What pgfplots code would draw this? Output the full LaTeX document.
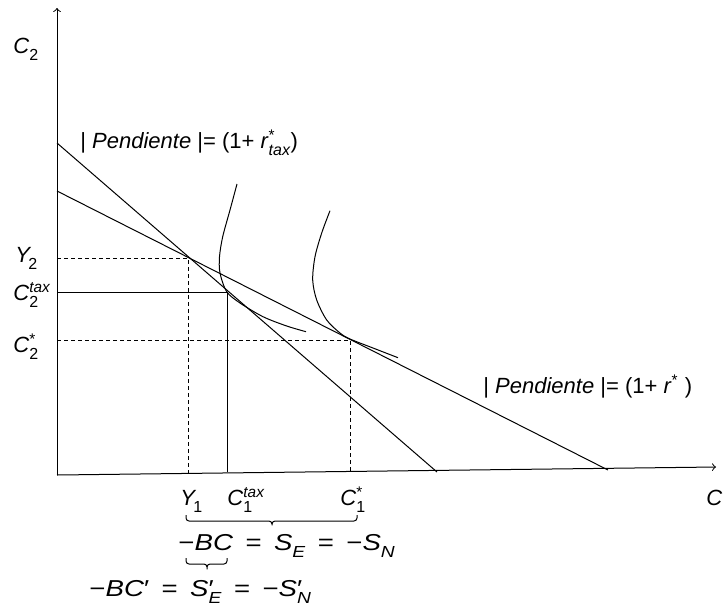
\documentclass[border=0pt]{standalone}
\usepackage{fontspec}
\setmainfont{Liberation Sans}
\usepackage{pgfplots}
\pgfplotsset{compat=1.18}
% lowered subscript and superscript stacked over subscript
\newcommand\dn[1]{\raisebox{-3.5pt}{\fontsize{8}{8}\selectfont #1}}
\newcommand\supsub[2]{\rlap{\textsuperscript{#1}}\dn{#2}}
\tikzset{lbl/.style={font=\fontsize{11}{13}\selectfont, inner sep=0pt, anchor=base west},
         dsh/.style={dash pattern=on 2pt off 1.5pt}}
\begin{document}
\begin{tikzpicture}
\begin{axis}[
    scale only axis, width=361.5pt, height=306pt,
    xmin=0, xmax=723, ymin=0, ymax=612, y dir=reverse,
    hide axis, clip=false, no markers,
    cycle list={{black,solid}},
    every axis plot/.append style={line width=0.5pt, black},
]
% axes
\addplot[->] coordinates {(57,475) (57,8)};
\addplot[->] coordinates {(57,475) (716,467)};
% budget lines
\addplot coordinates {(57,143) (437,472)};
\addplot coordinates {(57,191) (608,470)};
% guide lines
\addplot[dsh] coordinates {(57,258) (188,258) (188,473)};
\addplot coordinates {(57,292) (227,292) (227,472)};
\addplot[dsh] coordinates {(57,340) (350,340) (350,471)};
% indifference curves
\addplot[smooth] coordinates {(237,184) (230,210) (222.7,236.7) (219.5,256.7) (220,273)
    (226.7,291.7) (240,303) (263,316.7) (286.7,326) (306,331.7)};
\addplot[smooth] coordinates {(330,210.7) (321.7,233) (315,256.7) (312.7,280) (316.7,300)
    (326.7,320) (340,333) (350,339) (373,348) (398,357.7)};
% brackets
\addplot[rounded corners=1.5pt] coordinates {(186,515) (186,521) (272,521) (272,527)
    (272,521) (357,521) (357,515)};
\addplot[rounded corners=1.5pt] coordinates {(186,558) (186,564) (207,564) (207,571)
    (207,564) (227,564) (227,558)};
% labels
\node[lbl] at (axis cs:13,53) {\textit{C}\dn{2}};
\node[lbl] at (axis cs:15,262) {\textit{Y}\kern-1.5pt\dn{2}};
\node[lbl] at (axis cs:13,300) {\textit{C}\supsub{\textit{tax}}{2}};
\node[lbl] at (axis cs:13,352) {\textit{C}\supsub{*}{2}};
\node[lbl] at (axis cs:706,505) {\textit{C}\dn{1}};
\node[lbl] at (axis cs:180,505) {\textit{Y}\kern-1.5pt\dn{1}};
\node[lbl] at (axis cs:227,505) {\textit{C}\supsub{\textit{tax}}{1}};
\node[lbl] at (axis cs:340,505) {\textit{C}\supsub{*}{1}};
\node[lbl] at (axis cs:80,148) {| \textit{Pendiente} |= (1+ \textit{r}\supsub{*}{\textit{tax}})};
\node[lbl] at (axis cs:483,393) {| \textit{Pendiente} |= (1+ \textit{r}\textsuperscript{*} )};
\node[lbl, xscale=1.2] at (axis cs:178,550)
    {\fontsize{11.5}{13}\selectfont −\textit{BC}\hspace{0.45em}=\hspace{0.45em}\textit{S}\dn{\textit{E}}\hspace{0.45em}=\hspace{0.45em}−\textit{S}\dn{\textit{N}}};
\node[lbl, xscale=1.2] at (axis cs:89,596)
    {\fontsize{11.5}{13}\selectfont −\textit{BC}′\hspace{0.45em}=\hspace{0.45em}\textit{S}\rlap{′}\dn{\textit{E}}\hspace{0.45em}=\hspace{0.45em}−\textit{S}\rlap{′}\dn{\textit{N}}};
\end{axis}
\pgfresetboundingbox
\path (current axis.south west) rectangle (current axis.north east);
\end{tikzpicture}
\end{document}
